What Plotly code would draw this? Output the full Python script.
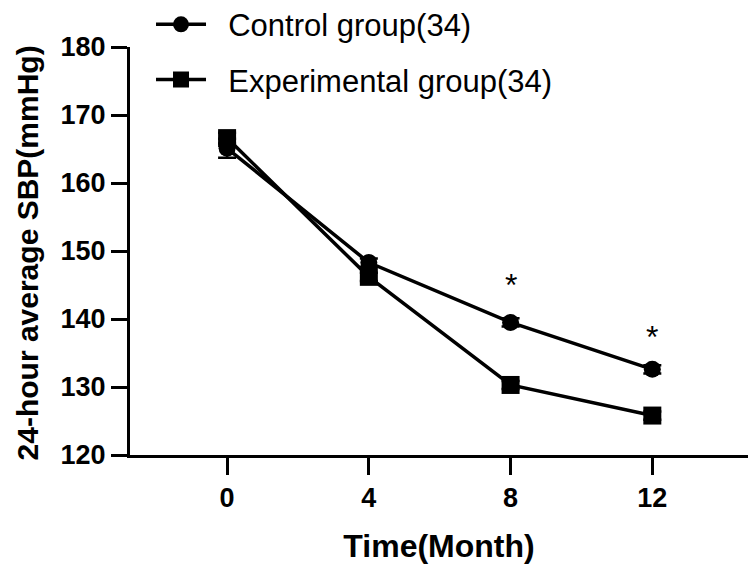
import plotly.graph_objects as go

months = [0, 4, 8, 12]
control = [165.1, 148.3, 139.5, 132.6]
control_err = [1.4, 0.6, 0.6, 0.6]
experimental = [166.6, 146.2, 130.3, 125.8]
experimental_err = [0.8, 0.6, 0.6, 0.6]
star_months = [8, 12]
star_values = [145.0, 137.4]
y_ticks = [120, 130, 140, 150, 160, 170, 180]
series_names = ["Control group(34)", "Experimental group(34)"]

FONT = "Liberation Sans, Arial, sans-serif"
PAD = "\u00a0\u00a0"

fig = go.Figure()
fig.add_trace(go.Scatter(
    x=months, y=control, name=PAD + series_names[0], mode="lines+markers",
    line=dict(color="black", width=3.5),
    marker=dict(symbol="circle", size=17, color="black"),
    error_y=dict(type="data", array=control_err, color="black", thickness=2.5, width=9),
    legendgroup="a",
))
fig.add_trace(go.Scatter(
    x=months, y=experimental, name=PAD + series_names[1], mode="lines+markers",
    line=dict(color="black", width=3.5),
    marker=dict(symbol="square", size=18, color="black"),
    error_y=dict(type="data", array=experimental_err, color="black", thickness=2.5, width=9),
    legendgroup="b",
))

for m, v in zip(star_months, star_values):
    fig.add_annotation(x=m, y=v, text="*", showarrow=False,
                       font=dict(family=FONT, size=32, color="black"))

fig.add_annotation(text="<b>24-hour average SBP(mmHg)</b>", xref="paper", yref="paper",
                   x=-0.166, y=0.495, xanchor="center", yanchor="middle", textangle=-90,
                   showarrow=False, font=dict(family=FONT, size=30, color="black"))

fig.update_layout(
    width=756, height=575,
    margin=dict(l=122, r=16, t=39, b=128, autoexpand=False),
    paper_bgcolor="white", plot_bgcolor="white",
    font=dict(family=FONT, color="black"),
    showlegend=True,
    legend=dict(x=0.034, y=1.121, xref="paper", yref="paper",
                xanchor="left", yanchor="top",
                font=dict(family=FONT, size=31, color="black"),
                bgcolor="rgba(0,0,0,0)", tracegroupgap=12,
                traceorder="grouped", itemwidth=50),
    xaxis=dict(range=[-2.74, 14.7], tickvals=months,
               ticktext=[f"<b>{m}</b>" for m in months],
               showgrid=False, zeroline=False, showline=True, linecolor="black", linewidth=3,
               ticks="outside", ticklen=17, tickwidth=3, tickcolor="black",
               ticklabelstandoff=0, automargin=False,
               tickfont=dict(family=FONT, size=27, color="black"),
               title=dict(text="<b>Time(Month)</b>", font=dict(family=FONT, size=32, color="black"),
                          standoff=23)),
    yaxis=dict(range=[120, 180], tickvals=y_ticks,
               ticktext=[f"<b>{t}</b>" for t in y_ticks],
               showgrid=False, zeroline=False, showline=True, linecolor="black", linewidth=3,
               ticks="outside", ticklen=16, tickwidth=3, tickcolor="black",
               automargin=False,
               tickfont=dict(family=FONT, size=27, color="black")),
)

fig.write_html("out.html")
